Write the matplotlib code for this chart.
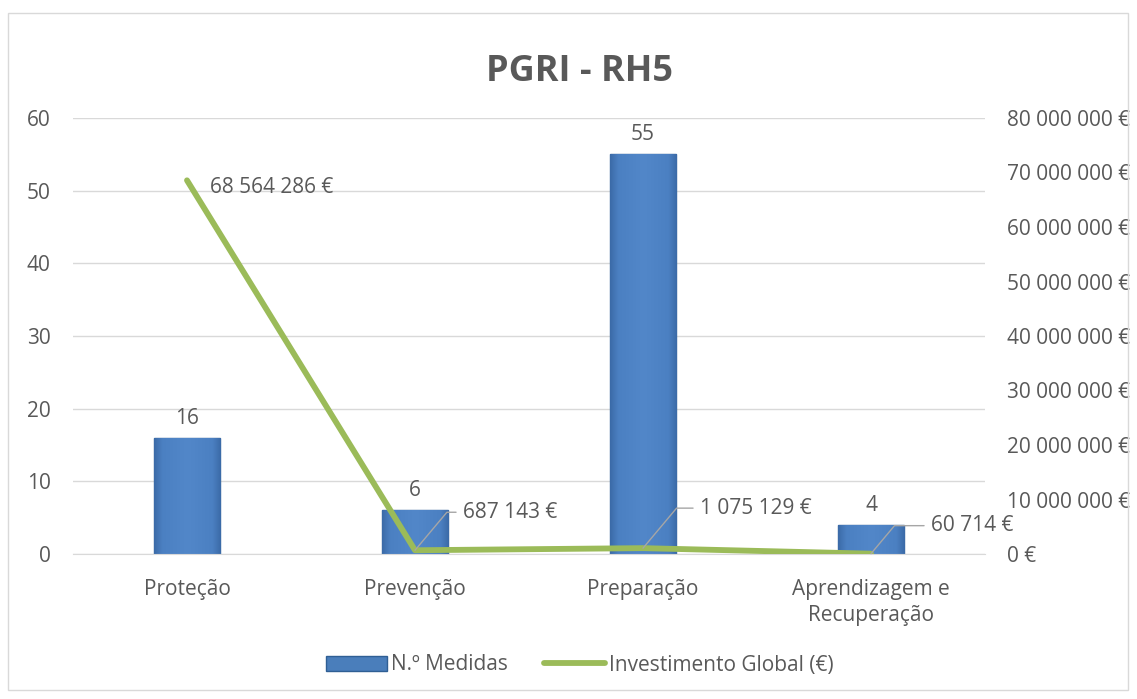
import matplotlib
matplotlib.use('Agg')
import matplotlib.pyplot as plt
import numpy as np
from matplotlib.colors import LinearSegmentedColormap
from matplotlib.patches import Rectangle

plt.rcParams['font.family'] = ['Open Sans', 'DejaVu Sans']

categories = ['Proteção', 'Prevenção', 'Preparação', 'Aprendizagem e\nRecuperação']
n_medidas = [16, 6, 55, 4]
investimento = [68564286, 687143, 1075129, 60714]
inv_labels = ['68 564 286 €', '687 143 €', '1 075 129 €', '60 714 €']

txt = '#595959'
grid = '#d9d9d9'
bar_col = '#4a7ebb'
line_col = '#9bbb59'
fs = 15


def eur(v, pos=None):
    return '{:,.0f} €'.format(v).replace(',', ' ')


fig = plt.figure(figsize=(11.37, 6.99), dpi=100)
# outer chart border
fig.patches.append(Rectangle((8 / 1137, 9 / 699), 1120 / 1137, 677 / 699,
                             transform=fig.transFigure, fill=False,
                             edgecolor='#d9d9d9', linewidth=1))

ax = fig.add_axes([73 / 1137, 1 - 554 / 699, 912 / 1137, 436 / 699])
x = range(len(categories))
bars = ax.bar(x, n_medidas, width=0.29, color=bar_col, edgecolor='#2f5f94',
              linewidth=1, zorder=2, label='N.º Medidas')

# soft bevel look: a bit darker at the sides
bevel = LinearSegmentedColormap.from_list(
    'bev', [(0, '#3b6ba8'), (0.12, '#4b80c2'), (0.5, '#5287c9'), (0.88, '#4b80c2'), (1, '#3b6ba8')])
grad = np.linspace(0, 1, 64).reshape(1, -1)
for b in bars:
    im = ax.imshow(grad, cmap=bevel, aspect='auto', zorder=2.1,
                   extent=(b.get_x(), b.get_x() + b.get_width(), 0, b.get_height()))
    im.set_clip_path(b)

ax.set_xlim(-0.5, 3.5)
ax.set_ylim(0, 60)
ax.set_yticks(range(0, 61, 10))
ax.set_xticks(list(x))
ax.set_xticklabels(categories, linespacing=1.3)
ax.grid(axis='y', color=grid, linewidth=1, zorder=0)
for s in ['top', 'right', 'left']:
    ax.spines[s].set_visible(False)
ax.spines['bottom'].set_color(grid)
ax.tick_params(length=0, labelsize=fs, colors=txt, pad=18)
ax.tick_params(axis='y', pad=16)

for i, v in enumerate(n_medidas):
    ax.annotate(str(v), (i, v), xytext=(0, 9), textcoords='offset pixels',
                ha='center', va='bottom', fontsize=fs, color=txt)

ax2 = ax.twinx()
ax2.plot(list(x), investimento, color=line_col, linewidth=4.2, solid_capstyle='round',
         solid_joinstyle='round', zorder=3, label='Investimento Global (€)')
ax2.set_ylim(0, 80000000)
ax2.set_yticks(range(0, 80000001, 10000000))
ax2.yaxis.set_major_formatter(eur)
for s in ['top', 'right', 'left', 'bottom']:
    ax2.spines[s].set_visible(False)
ax2.tick_params(length=0, labelsize=fs, colors=txt, pad=16)

offsets = [(23, -7), (48, 38), (57, 40), (60, 28)]
for i, (v, lab, off) in enumerate(zip(investimento, inv_labels, offsets)):
    if i == 0:
        ax2.annotate(lab, (i, v), xytext=off, textcoords='offset pixels',
                     ha='left', va='center', fontsize=fs, color=txt)
    else:
        ax2.annotate(lab, (i, v), xytext=off, textcoords='offset pixels',
                     ha='left', va='center', fontsize=fs, color=txt,
                     arrowprops=dict(arrowstyle='-', color='#a6a6a6', lw=1,
                                     shrinkA=3, shrinkB=0, relpos=(0, 0.5),
                                     connectionstyle='angle,angleA=0,angleB=50,rad=0'))

fig.text(580 / 1137, 1 - 72 / 699, 'PGRI - RH5', ha='center', va='center',
         fontsize=26, fontweight='bold', color=txt)

h1, l1 = ax.get_legend_handles_labels()
h2, l2 = ax2.get_legend_handles_labels()
fig.legend(h1 + h2, l1 + l2, loc='center', bbox_to_anchor=(580 / 1137, 1 - 665 / 699),
           ncol=2, frameon=False, fontsize=fs, labelcolor=txt,
           handlelength=2.9, handletextpad=0.2, columnspacing=1.75)

fig.savefig('out.png', dpi=100)
